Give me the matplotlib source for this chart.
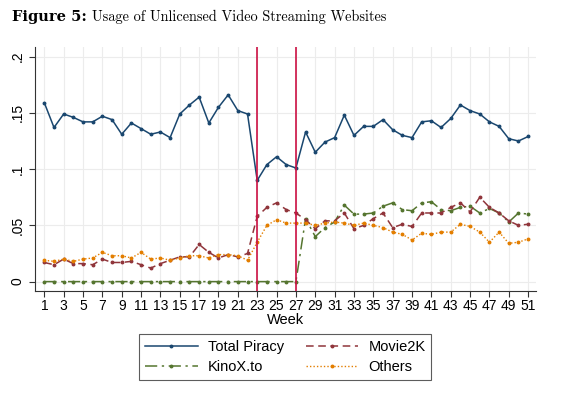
#!/usr/bin/env python

#Imports
import numpy as np
import matplotlib
matplotlib.use("Agg")
import matplotlib.pyplot as plt

#Data
weeks = np.arange(1, 52)

total_piracy = [0.159, 0.137, 0.149, 0.146, 0.142, 0.142, 0.147, 0.144, 0.131, 0.141,
                0.136, 0.131, 0.133, 0.128, 0.149, 0.157, 0.164, 0.141, 0.155, 0.166,
                0.152, 0.149, 0.090, 0.104, 0.111, 0.104, 0.101, 0.133, 0.115, 0.124,
                0.128, 0.148, 0.130, 0.138, 0.138, 0.144, 0.135, 0.130, 0.128, 0.142,
                0.143, 0.137, 0.145, 0.157, 0.152, 0.149, 0.142, 0.138, 0.127, 0.125,
                0.129]

movie2k = [0.017, 0.015, 0.020, 0.016, 0.016, 0.015, 0.020, 0.017, 0.017, 0.018,
           0.015, 0.012, 0.016, 0.019, 0.022, 0.022, 0.033, 0.026, 0.021, 0.024,
           0.022, 0.025, 0.058, 0.066, 0.070, 0.064, 0.061, 0.055, 0.047, 0.054,
           0.054, 0.061, 0.047, 0.050, 0.056, 0.061, 0.048, 0.051, 0.049, 0.061,
           0.061, 0.061, 0.066, 0.070, 0.062, 0.075, 0.066, 0.061, 0.054, 0.050,
           0.051]

kinox = [0.0] * 27 + [0.056, 0.040, 0.048, 0.053, 0.068, 0.060, 0.060, 0.061, 0.067,
                      0.070, 0.064, 0.063, 0.070, 0.071, 0.064, 0.063, 0.066, 0.067,
                      0.061, 0.065, 0.061, 0.053, 0.061, 0.060]

others = [0.019, 0.018, 0.020, 0.018, 0.020, 0.021, 0.026, 0.023, 0.023, 0.021,
          0.026, 0.020, 0.021, 0.019, 0.021, 0.023, 0.023, 0.021, 0.024, 0.024,
          0.023, 0.019, 0.035, 0.050, 0.055, 0.052, 0.052, 0.052, 0.050, 0.052,
          0.053, 0.052, 0.050, 0.052, 0.050, 0.048, 0.044, 0.042, 0.037, 0.043,
          0.042, 0.044, 0.044, 0.051, 0.049, 0.044, 0.035, 0.044, 0.034, 0.035,
          0.038]

event_weeks = [23, 27]
x_ticks = np.arange(1, 52, 2)
y_ticks = [0, 0.05, 0.1, 0.15, 0.2]
y_labels = ["0", ".05", ".1", ".15", ".2"]

#Plot
plt.rcParams['font.family'] = ['Liberation Sans', 'DejaVu Sans']

fig = plt.figure(figsize=(5.65, 3.97), dpi=100)
ax = fig.add_axes([0.062, 0.268, 0.887, 0.614])

ax.plot(weeks, total_piracy, color='#1a476f', lw=1.1, marker='o', ms=1.8,
        label='Total Piracy')
ax.plot(weeks, kinox, color='#55752f', lw=1.1, marker='o', ms=1.8,
        dashes=(8, 3, 1.5, 3), label='KinoX.to')
ax.plot(weeks, movie2k, color='#90353b', lw=1.1, marker='o', ms=1.8,
        dashes=(5, 3), label='Movie2K')
ax.plot(weeks, others, color='#e37e00', lw=1.0, marker='o', ms=1.8,
        dashes=(1, 1.5), label='Others')

for w in event_weeks:
    ax.axvline(w, color='#cc1144', lw=1.2, zorder=5)

ax.set_xlim(0.04, 51.83)
ax.set_ylim(-0.008, 0.2087)
ax.set_xticks(x_ticks)
ax.set_yticks(y_ticks)
ax.set_yticklabels(y_labels, rotation=90, va='center')
ax.tick_params(axis='both', labelsize=10, length=4, color='#333333')
ax.tick_params(axis='x', pad=2)
ax.set_xlabel("Week", fontsize=10.5, labelpad=0)

ax.grid(True, color='#ececec', lw=0.8)
ax.set_axisbelow(True)
for s in ['top', 'right']:
    ax.spines[s].set_visible(False)
for s in ['left', 'bottom']:
    ax.spines[s].set_color('#333333')

leg = fig.legend(loc='lower center', bbox_to_anchor=(0.505, 0.025), ncol=2,
                 fontsize=10.5, handlelength=3.6, columnspacing=1.5,
                 fancybox=False, edgecolor='#333333', borderpad=0.4,
                 labelspacing=0.4, handletextpad=0.7)
leg.get_frame().set_linewidth(0.8)

fig.text(0.021, 0.957, "Figure 5:", family='DejaVu Serif', weight='bold',
         fontsize=10.5, va='center')
fig.text(0.163, 0.957, "Usage of Unlicensed Video Streaming Websites",
         family='cmr10', fontsize=10.3, va='center')

plt.savefig("out.png", dpi=100)
